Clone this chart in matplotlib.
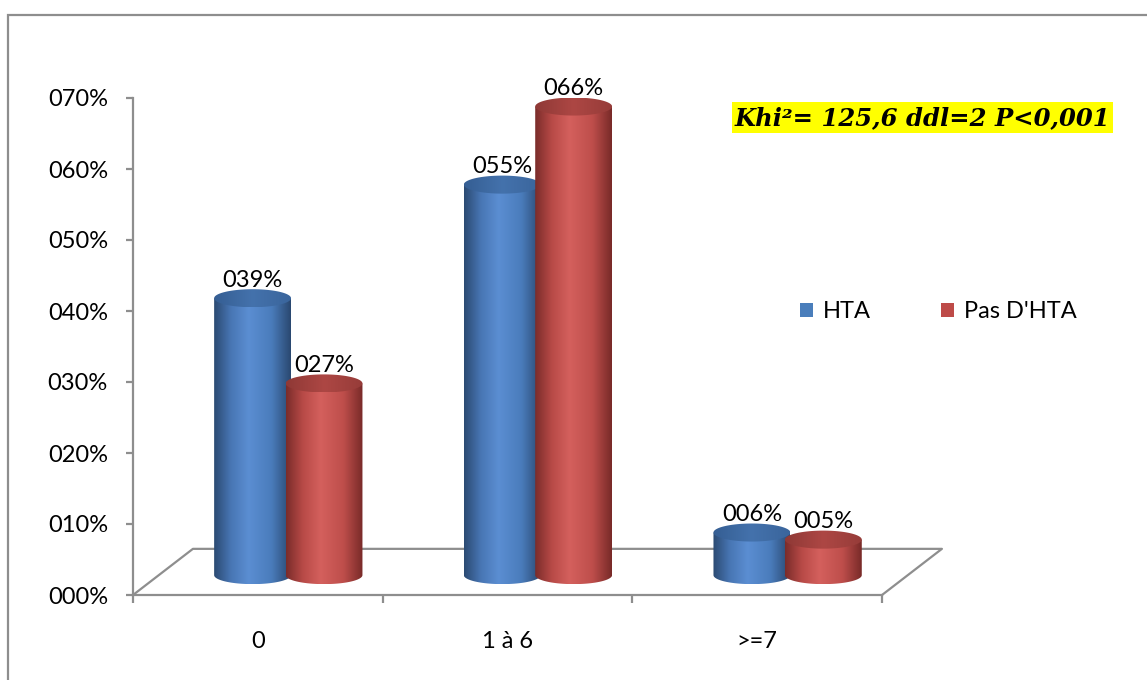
import numpy as np
import matplotlib
matplotlib.use("Agg")
import matplotlib.pyplot as plt
from matplotlib.patches import Ellipse, PathPatch, Rectangle
from matplotlib.path import Path
from matplotlib.colors import LinearSegmentedColormap
from matplotlib.ticker import FixedLocator, FuncFormatter, NullFormatter

# ---------------- data ----------------
categories = ["0", "1 à 6", ">=7"]
series_names = ["HTA", "Pas D'HTA"]
hta = [39, 55, 6]
pas_hta = [27, 66, 5]
y_ticks = [0, 10, 20, 30, 40, 50, 60, 70]
annotation_text = "Khi²= 125,6 ddl=2 P<0,001"

# ---------------- style ----------------
W, H = 1147, 680
FONT = "Lato"
FS = 17
GRAY = "#8E8E8E"
series_colors = [
    ["#2B4A72", "#4876B4", "#5B8ED2", "#4A7CBB", "#2A4870"],  # blue
    ["#7A2C2A", "#B84A47", "#D4605D", "#BE4E4B", "#782A28"],  # red
]
top_colors = [["#355E93", "#4472AC", "#3A659C"], ["#8F3936", "#AD4744", "#963C39"]]
legend_colors = ["#4A7EBB", "#BE4B48"]

fig = plt.figure(figsize=(W / 100, H / 100), dpi=100)
ax = fig.add_axes([133 / W, 1 - 595 / H, (882 - 133) / W, (595 - 98) / H])

n = len(categories)
depth_shift = 0.122
half_sep = 0.143
half_w = 0.154
base = 2.8
ell_h = 1.27

grad = np.linspace(0, 1, 256)[np.newaxis, :]
z = 3
for i in range(n):
    for s, vals in enumerate([hta, pas_hta]):
        v = vals[i]
        xc = i + depth_shift + (s - 0.5) * 2 * half_sep
        yb = base
        yt = base + v
        cmap = LinearSegmentedColormap.from_list(
            "c%d" % s, list(zip([0, 0.22, 0.45, 0.75, 1.0], series_colors[s])))
        tcmap = LinearSegmentedColormap.from_list("t%d" % s, top_colors[s])
        # body path: rectangle with lower half ellipse
        t = np.linspace(np.pi, 2 * np.pi, 60)
        bx = xc + half_w * np.cos(t)
        by = yb + ell_h * np.sin(t)
        verts = [(xc - half_w, yt)] + list(zip(bx, by)) + [(xc + half_w, yt), (xc - half_w, yt)]
        codes = [Path.MOVETO] + [Path.LINETO] * (len(verts) - 2) + [Path.CLOSEPOLY]
        path = Path(verts, codes)
        patch = PathPatch(path, transform=ax.transData, facecolor="none",
                          edgecolor="none", zorder=z)
        ax.add_patch(patch)
        im = ax.imshow(grad, extent=(xc - half_w, xc + half_w, yb - ell_h, yt),
                       cmap=cmap, aspect="auto", interpolation="bicubic", zorder=z)
        im.set_clip_path(patch)
        # top ellipse
        tt = np.linspace(0, 2 * np.pi, 120)
        ev = list(zip(xc + half_w * np.cos(tt), yt + ell_h * np.sin(tt)))
        top = PathPatch(Path(ev, closed=True), transform=ax.transData,
                        facecolor="none", edgecolor="none", zorder=z + 0.5)
        ax.add_patch(top)
        tim = ax.imshow(grad, extent=(xc - half_w, xc + half_w, yt - ell_h, yt + ell_h),
                        cmap=tcmap, aspect="auto", interpolation="bicubic",
                        zorder=z + 0.5)
        tim.set_clip_path(top)
        ax.annotate(f"{v:03d}%", (xc, yt + ell_h), xytext=(0, -1),
                    textcoords="offset points", ha="center", va="bottom",
                    fontsize=FS, family=FONT, color="black", annotation_clip=False)
        z += 1

# floor
ax.plot([-0.5, -0.5 + 0.24, n - 0.5 + 0.24, n - 0.5], [0, 6.5, 6.5, 0],
        color=GRAY, lw=1.6, clip_on=False, zorder=1)

ax.set_xlim(-0.5, n - 0.5)
ax.set_ylim(0, 70)
for sp in ["top", "right"]:
    ax.spines[sp].set_visible(False)
for sp in ["left", "bottom"]:
    ax.spines[sp].set_color(GRAY)
    ax.spines[sp].set_linewidth(1.6)

ax.yaxis.set_major_locator(FixedLocator(y_ticks))
ax.yaxis.set_major_formatter(FuncFormatter(lambda v, p: f"{int(round(v)):03d}%"))
ax.tick_params(axis="y", length=5, width=1.6, color=GRAY, pad=13,
               labelsize=FS, labelcolor="black")
ax.xaxis.set_major_locator(FixedLocator(np.arange(n + 1) - 0.5))
ax.xaxis.set_major_formatter(NullFormatter())
ax.xaxis.set_minor_locator(FixedLocator(np.arange(n)))
ax.set_xticklabels(categories, minor=True)
ax.tick_params(axis="x", which="major", length=6, width=1.6, color=GRAY)
ax.tick_params(axis="x", which="minor", length=0, pad=26, labelsize=FS)
for lab in ax.get_yticklabels() + ax.get_xticklabels(minor=True):
    lab.set_family(FONT)
ax.patch.set_visible(False)

# legend
handles = [Rectangle((0, 0), 1, 1, facecolor=c, edgecolor="none") for c in legend_colors]
fig.legend(handles, series_names, loc="center left",
           bbox_to_anchor=(800 / W, 1 - 312 / H), ncol=2, frameon=False,
           handlelength=0.55, handleheight=0.55, handletextpad=0.4,
           columnspacing=3.0, borderaxespad=0, borderpad=0,
           prop={"family": FONT, "size": FS})

# annotation box
fig.add_artist(Rectangle((732 / W, 1 - 133 / H), (1113 - 732) / W, 31 / H,
                         transform=fig.transFigure, facecolor="#FFFF00",
                         edgecolor="none", zorder=5))
fig.text((732 + 1113) / 2 / W, 1 - 118 / H, annotation_text, ha="center",
         va="center", fontsize=17.5, family="DejaVu Serif", weight="bold",
         style="italic", zorder=6)

# outer frame
fig.add_artist(Rectangle((8 / W, -0.1), 1.2, 1 - 15 / H + 0.1,
                         transform=fig.transFigure, fill=False,
                         edgecolor=GRAY, lw=1.6))

fig.savefig("out.png", dpi=100)
